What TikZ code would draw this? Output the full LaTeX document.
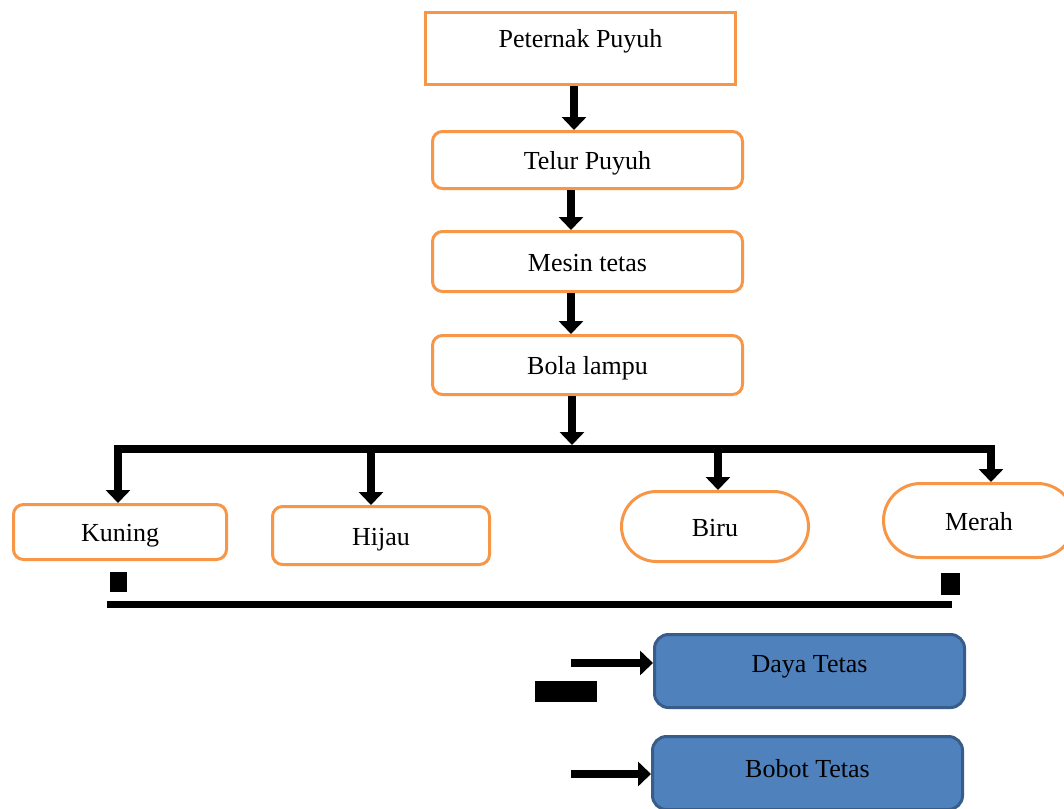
\documentclass[tikz,border=0pt]{standalone}
\usepackage{fontspec}
\setmainfont{Liberation Serif}
\usetikzlibrary{arrows.meta,calc}
\definecolor{orng}{HTML}{F79646}
\definecolor{bfill}{HTML}{4F81BD}
\definecolor{bline}{HTML}{385D8A}
\tikzset{
  obox/.style={draw=orng, line width=3pt, fill=white, rounded corners=10pt, inner sep=0pt, text height=19pt, text depth=0pt, font=\fontsize{26}{30}\selectfont},
  sbox/.style={obox, rounded corners=0pt},
  pill/.style={obox},
  bbox/.style={draw=bline, line width=3pt, fill=bfill, rounded corners=14pt, inner sep=0pt},
  txt/.style={inner sep=0pt, font=\fontsize{26}{30}\selectfont},
  fat/.style={line width=8.5pt, -{Triangle[width=24pt,length=13pt]}},
  bar/.style={line width=8.5pt},
}
\begin{document}
\begin{tikzpicture}[x=1pt,y=-1pt]
\clip (0,0) rectangle (1064,808);
\fill[white] (0,0) rectangle (1064,808);
% top chain
\node[sbox, minimum width=310pt, minimum height=72pt] (pet) at (580.5,48.5) {};
\node[txt] (petT) at (580.5,41) {Peternak Puyuh};
\node[obox, minimum width=310pt, minimum height=57pt] (tel) at (587.5,160) {Telur Puyuh};
\node[obox, minimum width=310pt, minimum height=60pt] (mes) at (587.5,261.5) {Mesin tetas};
\node[obox, minimum width=310pt, minimum height=59pt] (bol) at (587.5,365) {Bola lampu};
% colour nodes
\node[obox, minimum width=213pt, minimum height=55pt] (kun) at (120,532) {Kuning};
\node[obox, minimum width=217pt, minimum height=58pt] (hij) at (381,535.5) {Hijau};
\node[pill, rounded corners=35pt, minimum width=187pt, minimum height=70pt] (bir) at (715,526.5) {Biru};
\node[pill, rounded corners=37pt, minimum width=191pt, minimum height=74pt] (mer) at (979,520.5) {Merah};
% blue boxes
\node[bbox, minimum width=310pt, minimum height=73pt] (day) at (809.5,671) {};
\node[txt] (dayT) at (809.5,667) {Daya Tetas};
\node[bbox, minimum width=310pt, minimum height=73pt] (bob) at (807.5,773) {};
\node[txt] (bobT) at (807.5,769) {Bobot Tetas};
% chain arrows
\coordinate (c1) at (574,0);
\coordinate (c2) at (571,0);
\coordinate (c3) at (572,0);
\draw[fat] (c1 |- pet.south) -- (c1 |- tel.north);
\draw[fat] (c2 |- tel.south) -- (c2 |- mes.north);
\draw[fat] (c2 |- mes.south) -- (c2 |- bol.north);
% horizontal bar
\coordinate (bL) at (114,449);
\coordinate (bR) at (995,449);
\coordinate (bK) at (118,449);
\coordinate (bH) at (371,449);
\coordinate (bB) at (718,449);
\coordinate (bM) at (991,449);
\coordinate (bC) at (572,445);
\draw[fat] (c3 |- bol.south) -- (bC);
\draw[bar] (bL) -- (bR);
\draw[fat, shorten <=-4pt] (bK) -- (bK |- kun.north);
\draw[fat, shorten <=-4pt] (bH) -- (bH |- hij.north);
\draw[fat, shorten <=-4pt] (bB) -- (bB |- bir.north);
\draw[fat, shorten <=-4pt] (bM) -- (bM |- mer.north);
% small squares and bottom line
\fill (110,572) rectangle (127,592);
\fill (941,573) rectangle (960,595);
\coordinate (lL) at (107,604.5);
\coordinate (lR) at (952,604.5);
\draw[line width=6.5pt] (lL) -- (lR);
\fill (535,681) rectangle (597,702);
% arrows to blue boxes
\coordinate (a1) at (571,663);
\coordinate (a2) at (571,774);
\draw[fat] (a1) -- (a1 -| day.west);
\draw[fat] (a2) -- (a2 -| bob.west);
\end{tikzpicture}
\end{document}
